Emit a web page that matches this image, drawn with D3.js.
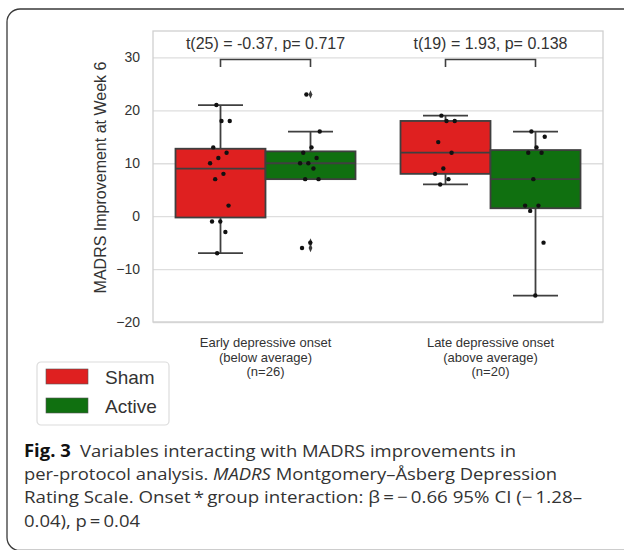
<!DOCTYPE html>
<html>
<head>
<meta charset="utf-8">
<script src="https://cdn.jsdelivr.net/npm/d3@7"></script>
<style>
  body { margin: 0; background: #fff; }
  svg { display: block; }
</style>
</head>
<body>
<div id="chart"></div>
<script>
// --- Data ---
const categories = ["early", "late"];
const categoryLabels = [
    ["Early depressive onset", "(below average)", "(n=26)"],
    ["Late depressive onset", "(above average)", "(n=20)"]
];
const groups = ["Sham", "Active"];
const groupColors = ["#df2020", "#107010"];

const earlySham = [21, 18, 18, 13, 12, 11, 10, 8, 7, 2, -1, -1, -3, -7];
const earlyActive = [23, 16, 13, 12, 11, 10, 10, 9, 7, 7, -5, -6];
const lateSham = [19, 18, 18, 14, 12, 9, 8, 7, 6];
const lateActive = [16, 15, 13, 12, 12, 7, 2, 2, 1, -5, -15];

const tTests = ["t(25) = -0.37, p= 0.717", "t(19) = 1.93, p= 0.138"];
const yTicks = [-20, -10, 0, 10, 20, 30];

const captionLines = [
    [{ t: "Fig. 3", w: "bold", c: "#111" }, { t: "\u2002Variables interacting with MADRS improvements in" }],
    [{ t: "per-protocol analysis. " }, { t: "MADRS", s: "italic" }, { t: " Montgomery\u2013\u00c5sberg Depression" }],
    [{ t: "Rating Scale. Onset\u2009*\u2009group interaction: \u03b2\u2009=\u2009\u2212\u20090.66 95% CI (\u2212\u20091.28\u2013" }],
    [{ t: "0.04), p\u2009=\u20090.04" }]
];

const series = [
    { cat: "early", group: "Sham", values: earlySham },
    { cat: "early", group: "Active", values: earlyActive },
    { cat: "late", group: "Sham", values: lateSham },
    { cat: "late", group: "Active", values: lateActive }
];

// --- Layout ---
const W = 624, H = 550;
const plot = { left: 153, right: 603, top: 31, bottom: 322 };
const lineColor = "#3f3f3f";

const svg = d3.select("#chart").append("svg")
    .attr("width", W)
    .attr("height", H);

// outer card border (runs off the right and bottom edges)
svg.append("rect")
    .attr("x", 7).attr("y", 9)
    .attr("width", 640).attr("height", 541.5)
    .attr("rx", 13)
    .attr("fill", "none")
    .attr("stroke", "#3a3a3a")
    .attr("stroke-width", 1.3);

const y = d3.scaleLinear().domain([-20, 35]).range([plot.bottom, plot.top]);
const x = d3.scaleBand().domain(categories).range([plot.left, plot.right]);
const xg = d3.scaleBand().domain(groups)
    .range([x.bandwidth() * 0.1, x.bandwidth() * 0.9]);
const color = d3.scaleOrdinal().domain(groups).range(groupColors);

// grid
svg.append("g")
    .attr("transform", `translate(${plot.left},0)`)
    .call(d3.axisLeft(y).tickValues(yTicks).tickSize(-(plot.right - plot.left)).tickFormat(""))
    .call(g => g.select(".domain").remove())
    .selectAll("line")
    .attr("stroke", "#dedede")
    .attr("stroke-width", 1.3);

// frame
svg.append("rect")
    .attr("x", plot.left).attr("y", plot.top)
    .attr("width", plot.right - plot.left)
    .attr("height", plot.bottom - plot.top)
    .attr("fill", "none")
    .attr("stroke", "#d0d0d0")
    .attr("stroke-width", 1.3);

// y axis labels
svg.append("g")
    .attr("transform", `translate(${plot.left - 13},0)`)
    .call(d3.axisLeft(y).tickValues(yTicks).tickSize(0).tickPadding(0))
    .call(g => g.select(".domain").remove())
    .selectAll("text")
    .attr("fill", "#333")
    .style("font-family", "'Liberation Sans', Arial, sans-serif")
    .style("font-size", "14px");

svg.append("text")
    .attr("transform", `translate(106,${(plot.top + plot.bottom) / 2 + 1}) rotate(-90)`)
    .attr("text-anchor", "middle")
    .attr("fill", "#333")
    .style("font-family", "'Liberation Sans', Arial, sans-serif")
    .style("font-size", "16px")
    .text("MADRS Improvement at Week 6");

// x axis labels (three lines each)
const xAxis = svg.append("g")
    .attr("transform", `translate(0,${plot.bottom})`)
    .call(d3.axisBottom(x).tickSize(0).tickFormat(""))
    .call(g => g.select(".domain").remove());

xAxis.selectAll(".tick").each(function(d, i) {
    categoryLabels[i].forEach((line, j) => {
        d3.select(this).append("text")
            .attr("x", 0)
            .attr("y", 25 + j * 14.5)
            .attr("text-anchor", "middle")
            .attr("fill", "#333")
            .style("font-family", "'Liberation Sans', Arial, sans-serif")
            .style("font-size", "13px")
            .text(line);
    });
});

// --- Boxes ---
function boxStats(values) {
    const s = values.slice().sort(d3.ascending);
    const q1 = d3.quantile(s, 0.25), med = d3.quantile(s, 0.5), q3 = d3.quantile(s, 0.75);
    const iqr = q3 - q1;
    const lo = d3.min(s.filter(v => v >= q1 - 1.5 * iqr));
    const hi = d3.max(s.filter(v => v <= q3 + 1.5 * iqr));
    const fliers = s.filter(v => v < lo || v > hi);
    return { q1, med, q3, lo, hi, fliers };
}

const bw = xg.bandwidth();
const boxes = svg.append("g").selectAll("g")
    .data(series)
    .join("g")
    .attr("transform", d => `translate(${x(d.cat) + xg(d.group)},0)`);

boxes.each(function(d) {
    const g = d3.select(this);
    const st = boxStats(d.values);
    const cx = bw / 2;

    g.append("line")
        .attr("x1", cx).attr("x2", cx)
        .attr("y1", y(st.q3)).attr("y2", y(st.hi))
        .attr("stroke", lineColor).attr("stroke-width", 1.8);
    g.append("line")
        .attr("x1", cx).attr("x2", cx)
        .attr("y1", y(st.q1)).attr("y2", y(st.lo))
        .attr("stroke", lineColor).attr("stroke-width", 1.8);
    [st.hi, st.lo].forEach(v => {
        g.append("line")
            .attr("x1", bw * 0.25).attr("x2", bw * 0.75)
            .attr("y1", y(v)).attr("y2", y(v))
            .attr("stroke", lineColor).attr("stroke-width", 1.8);
    });

    g.append("rect")
        .attr("x", 0).attr("y", y(st.q3))
        .attr("width", bw).attr("height", y(st.q1) - y(st.q3))
        .attr("fill", color(d.group))
        .attr("stroke", lineColor).attr("stroke-width", 1.8);
    g.append("line")
        .attr("x1", 0).attr("x2", bw)
        .attr("y1", y(st.med)).attr("y2", y(st.med))
        .attr("stroke", lineColor).attr("stroke-width", 1.8);

    // outliers as diamonds
    g.selectAll(".flier")
        .data(st.fliers)
        .join("path")
        .attr("class", "flier")
        .attr("d", d3.symbol(d3.symbolDiamond, 22))
        .attr("transform", v => `translate(${cx},${y(v)}) scale(0.75,1)`)
        .attr("fill", "#3a3a3a");

    // stripplot points with a fixed, deterministic jitter
    g.selectAll(".pt")
        .data(d.values)
        .join("circle")
        .attr("class", "pt")
        .attr("cx", (v, i) => cx + (((i * 0.618 + 0.31) % 1) - 0.5) * bw * 0.24)
        .attr("cy", v => y(v))
        .attr("r", 2.2)
        .attr("fill", "#111");
});

// --- Significance brackets and t-test text ---
categories.forEach((c, i) => {
    const x1 = x(c) + xg("Sham") + bw / 2;
    const x2 = x(c) + xg("Active") + bw / 2;
    svg.append("path")
        .attr("d", `M${x1},${y(28.2)}V${y(29.6)}H${x2}V${y(28.2)}`)
        .attr("fill", "none")
        .attr("stroke", lineColor)
        .attr("stroke-width", 1.6);
    svg.append("text")
        .attr("x", x(c) + x.bandwidth() / 2)
        .attr("y", y(32.6))
        .attr("dy", "0.35em")
        .attr("text-anchor", "middle")
        .attr("fill", "#333")
        .style("font-family", "'Liberation Sans', Arial, sans-serif")
        .style("font-size", "16px")
        .text(tTests[i]);
});

// --- Legend ---
const legend = svg.append("g").attr("transform", "translate(37,362)");
legend.append("rect")
    .attr("width", 132).attr("height", 63).attr("rx", 4)
    .attr("fill", "#fff").attr("stroke", "#dcdcdc").attr("stroke-width", 1.2);
groups.forEach((gName, i) => {
    legend.append("rect")
        .attr("x", 9).attr("y", 7 + i * 29)
        .attr("width", 42).attr("height", 15)
        .attr("fill", color(gName))
        .attr("stroke", "#555").attr("stroke-width", 0.6);
    legend.append("text")
        .attr("x", 68).attr("y", 22 + i * 29)
        .attr("fill", "#333")
        .style("font-family", "'Liberation Sans', Arial, sans-serif")
        .style("font-size", "19px")
        .text(gName);
});

// --- Caption ---
const captionWidths = [492, 533, 558, 116];
captionLines.forEach((line, i) => {
    const t = svg.append("text")
        .attr("x", 24)
        .attr("y", 457 + i * 23.2)
        .attr("fill", "#333")
        .attr("textLength", captionWidths[i])
        .attr("lengthAdjust", "spacingAndGlyphs")
        .style("font-family", "'Open Sans', 'Noto Sans', sans-serif")
        .style("font-size", "17px");
    line.forEach(part => {
        t.append("tspan")
            .attr("font-weight", part.w || null)
            .attr("font-style", part.s || null)
            .attr("fill", part.c || null)
            .text(part.t);
    });
});
</script>
</body>
</html>
